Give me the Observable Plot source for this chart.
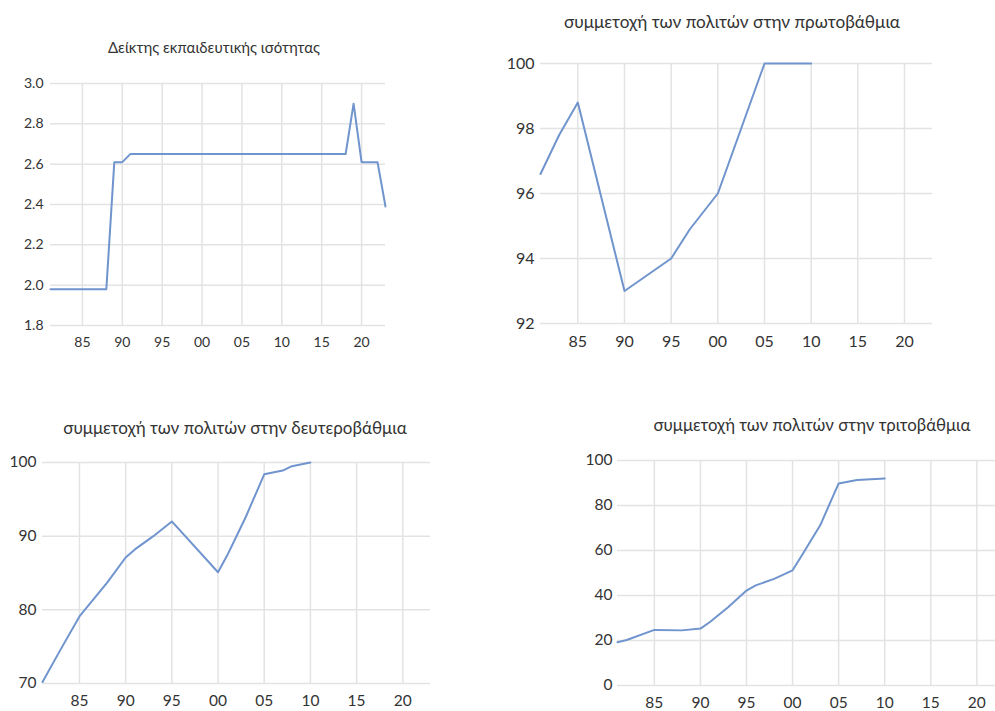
<!DOCTYPE html>
<html>
<head>
<meta charset="utf-8">
<script src="https://cdn.jsdelivr.net/npm/d3@7"></script>
<script src="https://cdn.jsdelivr.net/npm/@observablehq/plot@0.6"></script>
<style>
  html, body { margin: 0; padding: 0; background: #fff; overflow: hidden; width: 995px; height: 711px; }
  body { position: relative; font-family: Lato, "Open Sans", sans-serif; }
  .panel { position: absolute; }
  .panel svg { max-width: none !important; }
  .title { position: absolute; color: #333; white-space: nowrap; transform: translate(-50%, -50%); font-family: Lato, sans-serif; line-height: 1; }
</style>
</head>
<body>
<div id="root"></div>
<script>
// ---- Data ----
const xTicks = [1985, 1990, 1995, 2000, 2005, 2010, 2015, 2020];

const titles = [
  "Δείκτης εκπαιδευτικής ισότητας",
  "συμμετοχή των πολιτών στην πρωτοβάθμια",
  "συμμετοχή των πολιτών στην δευτεροβάθμια",
  "συμμετοχή των πολιτών στην τριτοβάθμια"
];

const equalityYears  = [1981, 1988, 1989, 1990, 1991, 2018, 2019, 2020, 2022, 2023];
const equalityValues = [1.98, 1.98, 2.61, 2.61, 2.65, 2.65, 2.90, 2.61, 2.61, 2.39];
const equalityTicks  = [1.8, 2.0, 2.2, 2.4, 2.6, 2.8, 3.0];

const primaryYears  = [1981, 1983, 1985, 1990, 1993, 1995, 1997, 2000, 2003, 2005, 2010];
const primaryValues = [96.6, 97.8, 98.8, 93.0, 93.6, 94.0, 94.9, 96.0, 98.4, 100, 100];
const primaryTicks  = [92, 94, 96, 98, 100];

const secondaryYears  = [1981, 1983, 1985, 1988, 1990, 1991, 1993, 1995, 2000, 2001, 2003, 2005, 2007, 2008, 2010];
const secondaryValues = [70.2, 74.7, 79.1, 83.7, 87.1, 88.2, 90.0, 92.0, 85.1, 87.4, 92.6, 98.4, 98.9, 99.5, 100];
const secondaryTicks  = [70, 80, 90, 100];

const tertiaryYears  = [1981, 1982, 1985, 1988, 1990, 1991, 1993, 1995, 1996, 1998, 2000, 2001, 2003, 2005, 2007, 2010];
const tertiaryValues = [19.2, 20.2, 24.7, 24.5, 25.3, 28.1, 34.8, 42.2, 44.5, 47.4, 51.2, 57.8, 71.2, 89.8, 91.3, 92.0];
const tertiaryTicks  = [0, 20, 40, 60, 80, 100];

// ---- Rendering ----
const lineColor = "#7094cd";
const gridColor = "#e3e3e3";
const labelColor = "#333333";

function rows(xs, ys) { return xs.map((x, i) => ({year: x, value: ys[i]})); }

const panels = [
  {data: rows(equalityYears, equalityValues), yTicks: equalityTicks, yDomain: [1.8, 3.0], yFmt: d3.format(".1f"),
   left: 0, top: 70, width: 400, height: 290, mt: 13, mb: 35, ml: 50, mr: 15, fs: 14, yPad: 7, xPad: 12,
   title: titles[0], tx: 214, ty: 47, tfs: 15},
  {data: rows(primaryYears, primaryValues), yTicks: primaryTicks, yDomain: [92, 100], yFmt: d3.format("d"),
   left: 480, top: 40, width: 480, height: 318, mt: 23, mb: 35, ml: 60, mr: 28, fs: 16, yPad: 6, xPad: 12,
   title: titles[1], tx: 732, ty: 22, tfs: 17.2},
  {data: rows(secondaryYears, secondaryValues), yTicks: secondaryTicks, yDomain: [70, 100], yFmt: d3.format("d"),
   left: 0, top: 440, width: 450, height: 278, mt: 22, mb: 35, ml: 42, mr: 20, fs: 15.5, yPad: 6, xPad: 11,
   title: titles[2], tx: 235, ty: 427, tfs: 17},
  {data: rows(tertiaryYears, tertiaryValues), yTicks: tertiaryTicks, yDomain: [0, 100], yFmt: d3.format("d"),
   left: 560, top: 440, width: 460, height: 280, mt: 20, mb: 35, ml: 57, mr: 16, fs: 15.5, yPad: 5, xPad: 11,
   title: titles[3], tx: 812, ty: 425, tfs: 16.8}
];

const root = document.getElementById("root");
const xFmt = d => String(d % 100).padStart(2, "0");

for (const p of panels) {
  const chart = Plot.plot({
    width: p.width,
    height: p.height,
    marginTop: p.mt,
    marginBottom: p.mb,
    marginLeft: p.ml,
    marginRight: p.mr,
    style: {fontFamily: "Lato, 'Open Sans', sans-serif", fontSize: p.fs + "px", color: labelColor, background: "transparent", overflow: "visible", maxWidth: "none"},
    x: {domain: [1981, 2023], label: null},
    y: {domain: p.yDomain, label: null},
    marks: [
      Plot.gridX(xTicks, {stroke: gridColor, strokeOpacity: 1, strokeWidth: 1.5}),
      Plot.gridY(p.yTicks, {stroke: gridColor, strokeOpacity: 1, strokeWidth: 1.5}),
      Plot.axisX(xTicks, {tickSize: 0, tickPadding: p.xPad, tickFormat: xFmt, fill: labelColor, fontSize: p.fs, label: null}),
      Plot.axisY(p.yTicks, {tickSize: 0, tickPadding: p.yPad, tickFormat: p.yFmt, fill: labelColor, fontSize: p.fs, label: null}),
      Plot.lineY(p.data, {x: "year", y: "value", stroke: lineColor, strokeWidth: 2})
    ]
  });
  const wrap = document.createElement("div");
  wrap.className = "panel";
  wrap.style.left = p.left + "px";
  wrap.style.top = p.top + "px";
  wrap.style.width = p.width + "px";
  wrap.style.height = p.height + "px";
  wrap.appendChild(chart);
  root.appendChild(wrap);

  const t = document.createElement("div");
  t.className = "title";
  t.textContent = p.title;
  t.style.left = p.tx + "px";
  t.style.top = p.ty + "px";
  t.style.fontSize = p.tfs + "px";
  root.appendChild(t);
}
</script>
</body>
</html>
